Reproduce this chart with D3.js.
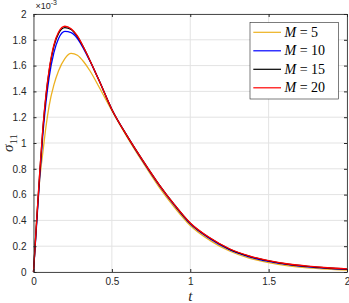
<!DOCTYPE html>
<html><head><meta charset="utf-8">
<script src="https://cdn.jsdelivr.net/npm/d3@7"></script>
<style>body{margin:0;background:#fff}svg{display:block}</style>
</head><body>
<script>
const tValues = [0,0.02,0.04,0.06,0.08,0.1,0.13,0.16,0.2,0.24,0.28,0.32,0.36,0.42,0.5,0.6,0.7,0.8,0.9,1.0,1.125,1.25,1.375,1.5,1.625,1.75,1.875,2.0];
const m5  = [0,0.40,0.72,0.93,1.13,1.29,1.45,1.56,1.655,1.695,1.68,1.63,1.56,1.43,1.25,1.04,0.845,0.66,0.50,0.36,0.245,0.163,0.108,0.073,0.048,0.032,0.022,0.015];
const m10 = [0,0.37,0.74,1.07,1.32,1.51,1.70,1.81,1.865,1.855,1.81,1.73,1.635,1.48,1.26,1.05,0.855,0.675,0.515,0.373,0.258,0.173,0.118,0.082,0.057,0.040,0.029,0.021];
const m15 = [0,0.39,0.77,1.11,1.37,1.56,1.75,1.85,1.895,1.88,1.825,1.74,1.64,1.48,1.26,1.05,0.86,0.68,0.52,0.378,0.263,0.178,0.123,0.086,0.060,0.043,0.031,0.023];
const m20 = [0,0.40,0.78,1.12,1.38,1.57,1.76,1.86,1.905,1.885,1.83,1.74,1.64,1.48,1.26,1.05,0.86,0.68,0.52,0.38,0.265,0.18,0.125,0.088,0.062,0.045,0.033,0.025];
const seriesNames = ["M = 5","M = 10","M = 15","M = 20"];
const seriesMVals = ["5","10","15","20"];
const seriesColors = ["#EDB120","#0000FF","#000000","#FF0000"];
const xTicks = [0,0.5,1,1.5,2];
const xTickLabels = ["0","0.5","1","1.5","2"];
const yTicks = [0,0.2,0.4,0.6,0.8,1,1.2,1.4,1.6,1.8,2];
const yTickLabels = ["0","0.2","0.4","0.6","0.8","1","1.2","1.4","1.6","1.8","2"];
const seriesData = [m5,m10,m15,m20];

const W=349,H=303;
const L=33.5,R=347,T=14,B=272;
const svg=d3.select("body").append("svg").attr("width",W).attr("height",H);
const x=d3.scaleLinear().domain([0,2]).range([L,R]);
const y=d3.scaleLinear().domain([0,2]).range([B,T]);
const axisColor="#262626";
// grid
svg.append("g").selectAll("line.gx").data(xTicks).join("line")
  .attr("x1",d=>x(d)).attr("x2",d=>x(d)).attr("y1",T).attr("y2",B)
  .attr("stroke","#e3e3e3").attr("stroke-width",1);
svg.append("g").selectAll("line.gy").data(yTicks).join("line")
  .attr("y1",d=>y(d)).attr("y2",d=>y(d)).attr("x1",L).attr("x2",R)
  .attr("stroke","#e3e3e3").attr("stroke-width",1);
// lines
const line=d3.line().x((d,i)=>x(tValues[i])).y(d=>y(d)).curve(d3.curveMonotoneX);
const gL=svg.append("g");
seriesData.forEach((s,i)=>{
  gL.append("path").attr("d",line(s)).attr("fill","none")
    .attr("stroke",seriesColors[i]).attr("stroke-width",1.3);
});
// axes
const tickFont="Liberation Sans, Arial, sans-serif";
function styleAxis(g){
  g.select(".domain").attr("stroke",axisColor).attr("stroke-width",0.8);
  g.selectAll("line").attr("stroke",axisColor);
  g.selectAll("text").attr("fill","#262626").attr("font-size",10).attr("font-family",tickFont);
}
svg.append("g").attr("transform",`translate(0,${B})`)
  .call(d3.axisBottom(x).tickValues(xTicks).tickFormat((d,i)=>xTickLabels[i]).tickSizeInner(-3).tickSizeOuter(0).tickPadding(6))
  .call(styleAxis);
svg.append("g").attr("transform",`translate(${L},0)`)
  .call(d3.axisLeft(y).tickValues(yTicks).tickFormat((d,i)=>yTickLabels[i]).tickSizeInner(-3).tickSizeOuter(0).tickPadding(7))
  .call(styleAxis);
svg.append("g").attr("transform",`translate(0,${T})`)
  .call(d3.axisTop(x).tickValues(xTicks).tickFormat("").tickSizeInner(-3).tickSizeOuter(0))
  .call(styleAxis);
svg.append("g").attr("transform",`translate(${R},0)`)
  .call(d3.axisRight(y).tickValues(yTicks).tickFormat("").tickSizeInner(-3).tickSizeOuter(0))
  .call(styleAxis);
// exponent
const ex=svg.append("text").attr("x",L+2).attr("y",9).attr("font-family",tickFont).attr("font-size",9).attr("fill","#262626");
ex.append("tspan").text("\u00d710");
ex.append("tspan").attr("dy",-4).attr("font-size",7).text("-3");
// axis labels
const serif="Liberation Serif, DejaVu Serif, serif";
svg.append("text").attr("x",(L+R)/2).attr("y",301).attr("text-anchor","middle")
  .attr("font-family",serif).attr("font-style","italic").attr("font-size",15).attr("fill","#262626").text("t");
const yl=svg.append("text").attr("transform",`translate(13,${(T+B)/2}) rotate(-90)`).attr("text-anchor","middle")
  .attr("font-family",serif).attr("font-size",15).attr("fill","#262626");
yl.append("tspan").attr("font-style","italic").text("\u03c3");
yl.append("tspan").attr("dy",4).attr("font-size",11).text("11");
// legend
const lg=svg.append("g");
lg.append("rect").attr("x",250).attr("y",22.5).attr("width",88.5).attr("height",76.5)
  .attr("fill","#fff").attr("stroke","#262626").attr("stroke-width",0.6);
seriesNames.forEach((n,i)=>{
  const yy=32.3+i*18.5;
  lg.append("line").attr("x1",253.3).attr("x2",281).attr("y1",yy).attr("y2",yy)
    .attr("stroke",seriesColors[i]).attr("stroke-width",1.2);
  const tx=lg.append("text").attr("x",284.5).attr("y",yy+4.5).attr("font-family",serif).attr("font-size",14).attr("fill","#000");
  tx.append("tspan").attr("font-style","italic").text("M");
  tx.append("tspan").text(" = "+seriesMVals[i]);
});
</script>
</body></html>
